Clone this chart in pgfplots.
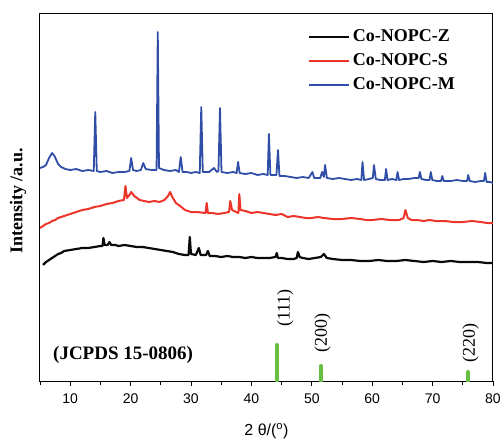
\documentclass[border=0pt]{standalone}
\usepackage{pgfplots}
\usepackage{pgfplotstable}
\pgfplotsset{compat=1.18}
\usepackage{fontspec}
\setmainfont{Liberation Serif}
\setsansfont{Liberation Sans}

\definecolor{zblack}{RGB}{10,10,10}
\definecolor{sred}{RGB}{236,52,42}
\definecolor{mblue}{RGB}{48,78,168}
\definecolor{refgreen}{RGB}{102,190,66}

% curves given as (2theta, pixel row); y = 381 - row
\pgfplotstableread{
x r
5.0 168
5.5 167
6.0 165
6.5 158
7.0 153
7.4 156
8.0 164
8.5 167
9.2 169
10.0 170
11.0 169
12.0 171
13.0 170
13.9 171
14.15 112
14.4 171
15.0 172
16.0 171
17.0 173
18.0 172
19.0 172
19.8 171
20.1 158
20.4 170
21.0 171
21.7 170
22.1 163
22.5 169
23.5 170
24.3 170
24.5 32
24.7 168
25.5 170
26.5 171
27.5 170
28.0 172
28.3 157
28.6 172
29.3 172
30.0 173
30.8 172
31.45 173
31.7 107
31.95 172
33.0 172
33.8 168
34.3 172
34.55 171
34.8 108
35.05 172
36.0 173
37.0 172
37.55 173
37.8 162
38.05 173
39.0 174
40.0 173
41.0 175
42.0 174
42.7 175
42.9 134
43.15 175
44.15 175
44.4 150
44.65 176
45.5 176
46.5 177
47.5 178
48.5 177
49.5 178
50.1 172
50.4 178
51.4 178
51.7 172
52.0 177
52.2 165
52.5 178
53.5 179
54.5 178
55.5 179
56.5 180
57.5 179
58.2 180
58.4 162
58.65 180
59.5 179
60.1 178
60.3 165
60.6 179
61.3 180
62.1 180
62.3 169
62.55 180
63.3 179
64.0 180
64.2 172
64.45 180
65.2 179
66.0 179
67.0 178
67.7 178
67.9 172
68.15 179
69.0 180
69.5 180
69.7 172
69.95 180
70.7 181
71.4 181
71.6 176
71.85 181
73.0 181
74.0 180
75.0 181
75.7 181
75.9 175
76.15 181
77.0 182
78.0 181
78.5 181
78.7 173
78.95 182
79.5 182
80.0 183
}\blueM

\pgfplotstableread{
x r
5.0 228
5.5 226
6.0 224
6.5 223
7.0 221
7.5 220
8.0 218
9.0 216
10.0 214
11.0 212
12.0 210
13.0 209
14.0 207
15.0 206
16.0 204
17.0 203
18.0 201
18.9 200
19.15 186
19.4 198
19.8 195
20.1 192
20.6 196
21.5 200
22.3 201
23.0 202
24.0 201
24.8 202
25.6 200
26.2 196
26.55 192
26.9 197
27.5 203
28.2 206
29.0 210
30.0 212
31.0 212
32.4 213
32.6 203
32.8 213
33.5 213
34.5 214
35.5 213
36.3 212
36.5 201
36.8 210
37.5 212
37.85 213
38.0 194
38.2 210
39.0 211
40.0 213
41.0 212
42.0 213
43.0 214
44.0 215
45.0 214
46.0 217
47.0 216
48.0 217
49.0 218
50.0 218
51.0 217
52.0 218
53.5 219
55.0 219
56.5 218
58.0 219
59.0 220
60.0 220
61.5 219
63.0 220
64.5 220
65.2 218
65.5 210
65.9 218
66.5 220
67.5 220
68.5 221
69.5 220
70.5 221
72.0 221
73.5 222
75.0 222
76.5 221
78.0 222
79.0 223
80.0 223
}\redS

\pgfplotstableread{
x r
5.5 265
6.0 262
6.5 260
7.0 258
7.5 256
8.0 254
8.5 253
9.0 251
10.0 250
11.0 249
12.0 248
13.0 248
14.0 247
15.0 246
15.35 246
15.5 238
15.7 245
16.2 245
16.5 242
16.8 245
17.5 245
18.0 246
19.0 245
20.0 246
21.0 247
22.0 247
23.0 248
24.0 249
25.0 250
26.0 251
27.0 252
28.0 254
29.0 255
29.6 255
29.8 237
30.0 254
30.8 255
31.3 248
31.6 255
32.5 255
32.8 251
33.1 256
34.0 256
35.0 257
36.0 256
37.0 257
38.0 257
39.0 258
40.0 257
41.0 258
42.0 258
43.0 258
44.0 257
44.2 253
44.4 258
45.0 258
46.0 259
47.0 259
47.5 258
47.7 252
48.0 257
48.5 258
49.5 259
50.5 258
51.5 257
52.0 254
52.5 258
53.5 259
55.0 260
56.5 260
58.0 261
59.5 261
61.0 260
62.5 261
64.0 261
65.5 260
67.0 261
68.5 262
70.0 261
71.5 262
73.0 261
74.5 262
76.0 262
77.5 262
79.0 263
80.0 263
}\blackZ

\begin{document}
\begin{tikzpicture}
\useasboundingbox (-40pt,-59pt) rectangle (464pt,381pt);
\begin{axis}[
    scale only axis,
    width=453pt, height=367pt,
    xmin=5, xmax=80, ymin=0, ymax=367,
    xtick={10,20,...,80},
    minor xtick={5,15,...,75},
    ytick=\empty,
    tick pos=bottom,
    tick align=outside,
    major tick length=5pt,
    minor tick length=4pt,
    every tick/.style={black, line width=0.9pt},
    axis line style={line width=1pt},
    /pgf/number format/assume math mode=true,
    xticklabel style={font=\sffamily\fontsize{14}{14}\selectfont, yshift=-4pt},
    xlabel={2 θ/(\textsuperscript{o})},
    xlabel style={font=\sffamily\fontsize{16}{16}\selectfont, at={(axis description cs:0.5,-0.136)}, anchor=center},
    ylabel={Intensity /a.u.},
    ylabel style={font=\bfseries\fontsize{18}{18}\selectfont, at={(axis description cs:-0.0486,0.49)}, anchor=center},
    legend style={at={(axis description cs:0.592,0.97)}, anchor=north west,
        draw=none, fill=none, inner sep=0pt,
        font=\bfseries\fontsize{18}{18}\selectfont,
        nodes={inner xsep=3pt, inner ysep=4pt, text height=12pt, text depth=4pt}},
    legend cell align=left,
    clip=true,
]
\addplot[zblack, line width=2.2pt, line join=round, forget plot] table[x=x, y expr=381-\thisrow{r}] {\blackZ};
\addplot[sred, line width=2pt, line join=round, forget plot] table[x=x, y expr=381-\thisrow{r}] {\redS};
\addplot[mblue, line width=1.8pt, line join=round, forget plot] table[x=x, y expr=381-\thisrow{r}] {\blueM};

\addlegendimage{legend image code/.code={\draw[zblack, line width=1.6pt] (0pt,0pt) -- (40pt,0pt);}}
\addlegendentry{Co-NOPC-Z}
\addlegendimage{legend image code/.code={\draw[sred, line width=1.6pt] (0pt,0pt) -- (40pt,0pt);}}
\addlegendentry{Co-NOPC-S}
\addlegendimage{legend image code/.code={\draw[mblue, line width=1.6pt] (0pt,0pt) -- (40pt,0pt);}}
\addlegendentry{Co-NOPC-M}

\addplot[refgreen, ycomb, line width=4pt, line cap=round, forget plot] coordinates {
    (44.2,36) (51.5,15) (75.8,9)
};

\node[rotate=90, font=\fontsize{18}{18}\selectfont] at (axis cs:45.6,73) {(111)};
\node[rotate=90, font=\fontsize{18}{18}\selectfont] at (axis cs:51.8,48) {(200)};
\node[rotate=90, font=\fontsize{18}{18}\selectfont] at (axis cs:76.3,38) {(220)};
\node[anchor=west, inner sep=0pt, font=\bfseries\fontsize{19}{19}\selectfont] at (axis cs:7.15,26) {(JCPDS 15-0806)};
\end{axis}
\end{tikzpicture}
\end{document}
